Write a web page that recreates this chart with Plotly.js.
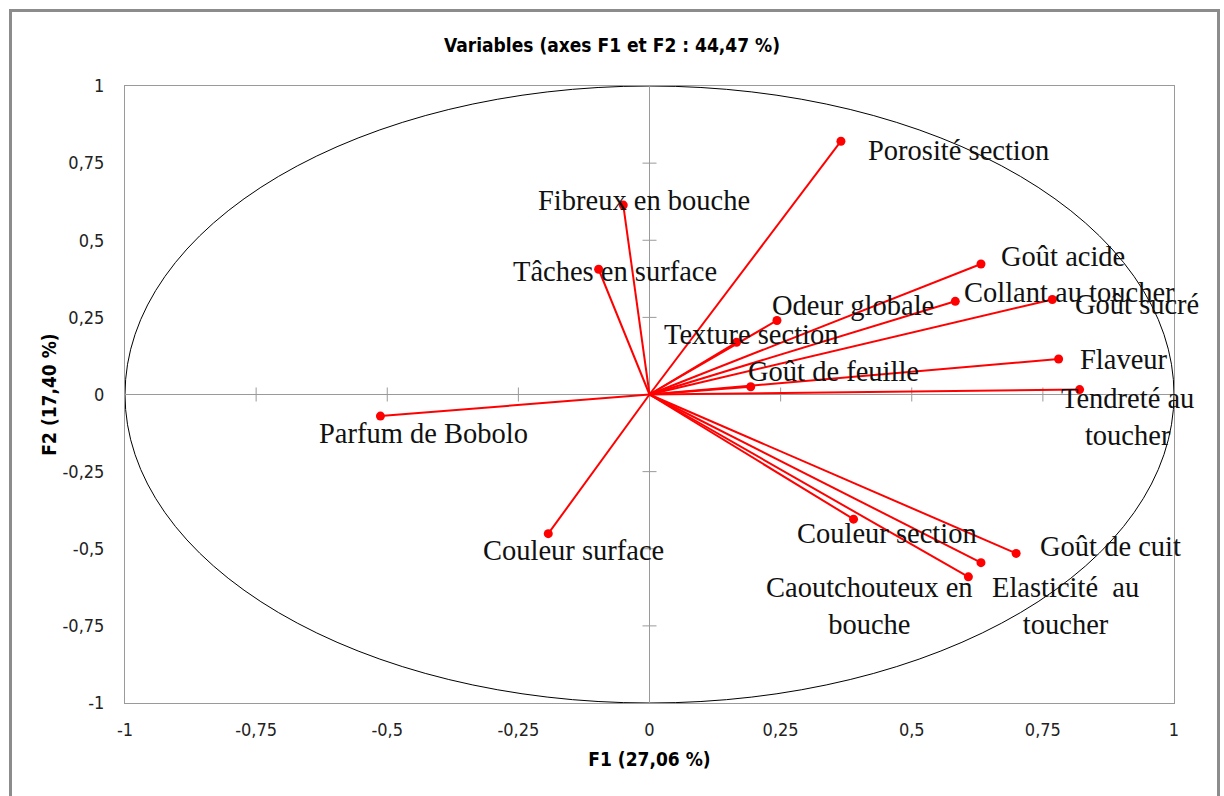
<!DOCTYPE html>
<html>
<head>
<meta charset="utf-8">
<script src="https://cdn.plot.ly/plotly-3.0.1.min.js"></script>
<style>
  html, body { margin: 0; padding: 0; background: #ffffff; }
  #chart { width: 1224px; height: 796px; }
</style>
</head>
<body>
<div id="chart"></div>
<script>
// Correlation circle: variables projected on F1 / F2
const variables = [
  "Porosité section", "Fibreux en bouche", "Tâches en surface", "Goût acide",
  "Collant au toucher", "Goût sucré", "Odeur globale", "Texture section",
  "Flaveur", "Goût de feuille", "Tendreté au toucher", "Parfum de Bobolo",
  "Couleur surface", "Couleur section", "Goût de cuit", "Elasticité au toucher",
  "Caoutchouteux en bouche"
];
const f1 = [0.365, -0.050, -0.097, 0.632, 0.583, 0.768, 0.243, 0.166,
            0.780, 0.193, 0.820, -0.513, -0.193, 0.389, 0.699, 0.632, 0.608];
const f2 = [0.821, 0.614, 0.406, 0.423, 0.302, 0.308, 0.240, 0.169,
            0.115, 0.025, 0.016, -0.070, -0.451, -0.404, -0.515, -0.545, -0.591];
// Label text as displayed (some wrapped on two lines)
const labels = [
  "Porosité section", "Fibreux en bouche", "Tâches en surface", "Goût acide",
  "Collant au toucher", "Goût sucré", "Odeur globale", "Texture section",
  "Flaveur", "Goût de feuille", "Tendreté au<br>toucher", "Parfum de Bobolo",
  "Couleur surface", "Couleur section", "Goût de cuit", "Elasticité&nbsp; au<br>toucher",
  "Caoutchouteux en<br>bouche"
];
const tickValues = [-1, -0.75, -0.5, -0.25, 0, 0.25, 0.5, 0.75, 1];
const tickText = ["-1", "-0,75", "-0,5", "-0,25", "0", "0,25", "0,5", "0,75", "1"];
const chartTitle = "Variables (axes F1 et F2 : 44,47 %)";
const xTitle = "F1 (27,06 %)";
const yTitle = "F2 (17,40 %)";

// Label placement relative to each point, in pixels [right, down]
const labelShift = [
  [118, 9], [21, -5], [16, 2], [82, -8], [114, -9], [85, 5], [76, -15], [14, -8],
  [65, 0], [83, -15], [48, 27], [43, 17], [25, 17], [33, 14], [94, -7], [85, 43],
  [-99, 29]
];

const RED = "#ff0000";
const GRID = "#9a9a9a";
const sans = "Liberation Sans Narrow, DejaVu Sans Condensed, Arial Narrow, sans-serif";
const serif = "Liberation Serif, Times New Roman, serif";

// Vectors from origin to each variable
const vx = [], vy = [];
f1.forEach((v, i) => { vx.push(0, v, null); vy.push(0, f2[i], null); });

// Cross tick marks along the zero lines
const inner = tickValues.filter(t => t !== 0 && Math.abs(t) !== 1);

const traces = [
  {
    x: inner, y: inner.map(() => 0), mode: "markers", type: "scatter",
    marker: { symbol: "line-ns", size: 10, line: { color: GRID, width: 1 } },
    hoverinfo: "skip", showlegend: false
  },
  {
    x: inner.map(() => 0), y: inner, mode: "markers", type: "scatter",
    marker: { symbol: "line-ew", size: 10, line: { color: GRID, width: 1 } },
    hoverinfo: "skip", showlegend: false
  },
  {
    x: vx, y: vy, mode: "lines", type: "scatter",
    line: { color: RED, width: 2 }, hoverinfo: "skip", showlegend: false
  },
  {
    x: f1, y: f2, text: variables, mode: "markers", type: "scatter",
    marker: { color: RED, size: 9 }, hoverinfo: "skip", showlegend: false
  }
];

const annotations = labels.map((t, i) => ({
  x: f1[i], y: f2[i], xref: "x", yref: "y",
  text: t, showarrow: false, align: "center",
  xanchor: "center", yanchor: "middle",
  xshift: labelShift[i][0], yshift: -labelShift[i][1],
  font: { family: serif, size: 28.5, color: "#111111" }
}));

const L = 125, R = 50, T = 86, B = 93;
const pw = 1224 - L - R, ph = 796 - T - B;
const px = v => (v - L) / pw;
const py = v => (796 - B - v) / ph;

const layout = {
  width: 1224, height: 796,
  margin: { l: L, r: R, t: T, b: B },
  paper_bgcolor: "#ffffff", plot_bgcolor: "#ffffff",
  title: {
    text: chartTitle, xref: "container", yref: "container",
    x: 0.5, y: 1 - 45 / 796, xanchor: "center", yanchor: "middle",
    font: { family: sans, size: 19, color: "#000000", weight: "bold" }
  },
  xaxis: {
    range: [-1, 1], tickvals: tickValues, ticktext: tickText,
    showgrid: false, zeroline: true, zerolinecolor: GRID, zerolinewidth: 1,
    showline: true, mirror: true, linecolor: GRID, linewidth: 1,
    ticks: "outside", ticklen: 10, tickcolor: "rgba(0,0,0,0)",
    tickfont: { family: sans, size: 18, color: "#222222" },
    title: { text: xTitle, standoff: 14, font: { family: sans, size: 19, color: "#000000", weight: "bold" } },
    fixedrange: true
  },
  yaxis: {
    range: [-1, 1], tickvals: tickValues, ticktext: tickText,
    showgrid: false, zeroline: true, zerolinecolor: GRID, zerolinewidth: 1,
    showline: true, mirror: true, linecolor: GRID, linewidth: 1,
    ticks: "outside", ticklen: 16, tickcolor: "rgba(0,0,0,0)",
    tickfont: { family: sans, size: 18, color: "#222222" },
    title: { text: yTitle, standoff: 0, font: { family: sans, size: 19, color: "#000000", weight: "bold" } },
    fixedrange: true
  },
  shapes: [
    {
      type: "circle", xref: "x", yref: "y", x0: -1, y0: -1, x1: 1, y1: 1,
      line: { color: "#000000", width: 1 }, layer: "below"
    },
    {
      type: "rect", xref: "paper", yref: "paper",
      x0: px(10.5), x1: px(1218.5), y0: py(805), y1: py(10.5),
      line: { color: "#8c8c8c", width: 3 }, fillcolor: "rgba(0,0,0,0)"
    }
  ],
  annotations: annotations
};

Plotly.newPlot("chart", traces, layout, { staticPlot: true, displayModeBar: false });
</script>
</body>
</html>
